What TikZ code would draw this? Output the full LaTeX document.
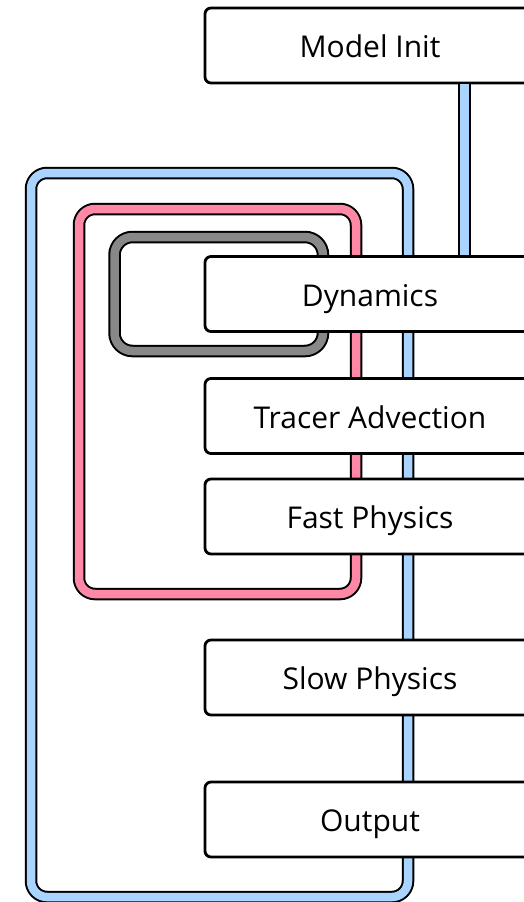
\documentclass[tikz,border=0pt]{standalone}
\usepackage{fontspec}
\setmainfont{Open Sans}
\definecolor{loopblue}{HTML}{A8D4FF}
\definecolor{looppink}{HTML}{FF88A6}
\definecolor{loopgray}{HTML}{888888}

\begin{document}
\begin{tikzpicture}[
        x=1pt, y=-1pt,
        box/.style={draw, line width=2.8pt, rounded corners=6pt, fill=white,
            minimum width=330pt, minimum height=75pt,
            text height=26pt, text depth=2pt,
            font=\fontsize{30}{36}\selectfont},
        band/.style={draw=black, line width=2pt, double distance=8.5pt, rounded corners=16pt}
    ]
        \useasboundingbox (0, 0) rectangle (524, 902);
        \clip (0, 0) rectangle (524, 902);

        % loops behind the boxes
        \draw[band, double=loopblue] (31, 173) rectangle (408, 897);
        \draw[band, double=looppink] (79, 209) rectangle (356, 594);
        \draw[band, double=loopgray, rounded corners=18pt] (114.5, 237) rectangle (323, 351);

        \node[box] (init) at (370, 45.5) {Model Init};
        \node[box] (dyn) at (370, 294) {Dynamics};
        \node[box] (tracer) at (370, 416) {Tracer Advection};
        \node[box] (fast) at (370, 516.5) {Fast Physics};
        \node[box] (slow) at (370, 677.5) {Slow Physics};
        \node[box] (out) at (370, 819.5) {Output};

        \draw[band, double=loopblue] ([xshift=94.5pt]init.south) -- ([xshift=94.5pt]dyn.north);

    \end{tikzpicture}
\end{document}
